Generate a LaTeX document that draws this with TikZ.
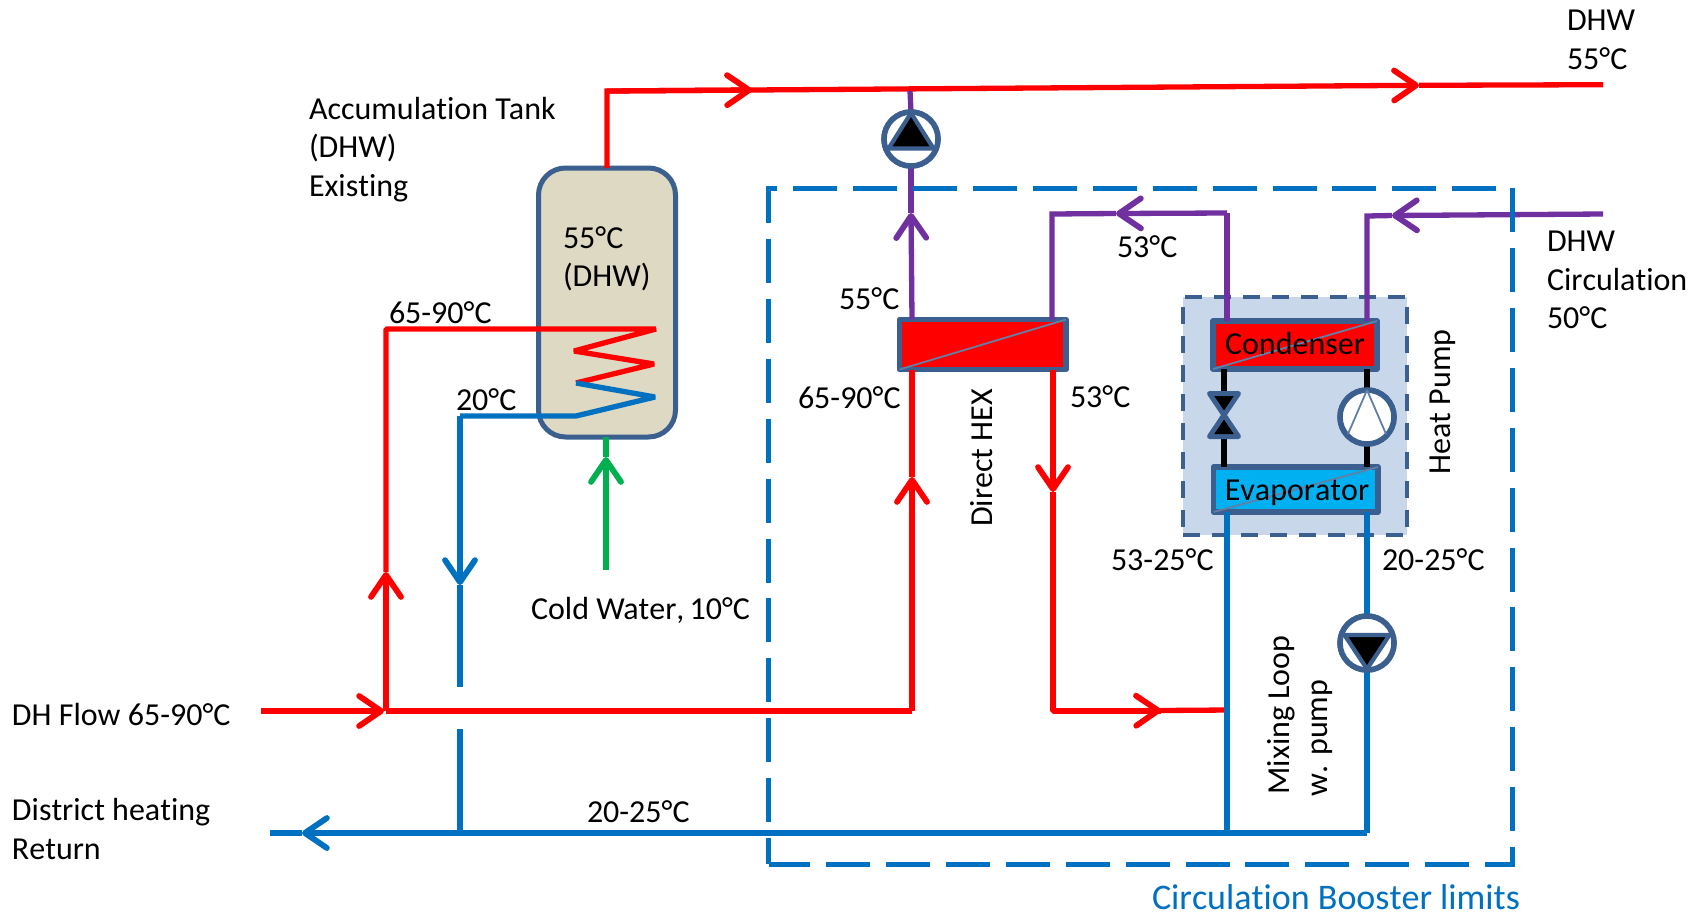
\documentclass[tikz,border=0pt]{standalone}
\usepackage{fontspec}
\setmainfont{Carlito}[Ligatures=NoCommon,Kerning=Off]
\usetikzlibrary{arrows.meta,shapes.geometric}
\definecolor{cRed}{HTML}{FF0000}
\definecolor{cBlue}{HTML}{0070C0}
\definecolor{cPurple}{HTML}{7030A0}
\definecolor{cGreen}{HTML}{00B050}
\definecolor{cEdge}{HTML}{3B5F8E}
\definecolor{cTank}{HTML}{DDD9C3}
\definecolor{cHP}{HTML}{C9D7EA}
\definecolor{cEvap}{HTML}{00B0F0}
\tikzset{
  pipe/.style={line width=5.3pt,line join=bevel},
  redp/.style={pipe,draw=cRed},
  bluep/.style={pipe,draw=cBlue},
  purp/.style={pipe,draw=cPurple},
  grnp/.style={pipe,draw=cGreen},
  blkp/.style={line width=5.5pt,draw=black},
  vtip/.style={-{Straight Barb[length=22pt,width=30pt,line width=5.8pt,round]}},
  hexbox/.style={rectangle,draw=cEdge,line width=5.5pt,inner sep=0pt,outer sep=0pt,line join=round},
  hexdiag/.style={draw=cEdge!80!white,line width=1.8pt},
  circ/.style={circle,draw=cEdge,line width=5.5pt,fill=white,minimum size=54pt,inner sep=0pt,outer sep=0pt},
  tri/.style={draw=cEdge,line width=4.2pt,fill=black,line join=round},
  lbl/.style={font=\fontsize{32}{38.5}\selectfont,inner sep=0pt,outer sep=0pt,align=left,anchor=west},
  rot/.style={font=\fontsize{32}{38.5}\selectfont,inner sep=0pt,outer sep=0pt,align=center,rotate=90},
}
\begin{document}
\begin{tikzpicture}[x=1pt,y=-1pt]
\useasboundingbox (0,0) rectangle (1702,914);
% heat pump frame
\node[rectangle,fill=cHP,draw=cEdge,line width=4.5pt,dash pattern=on 17pt off 12pt,minimum width=224pt,minimum height=238pt,inner sep=0pt,outer sep=0pt] (hpbox) at (1295,416) {};
% components
\node[rectangle,rounded corners=27pt,fill=cTank,draw=cEdge,line width=5pt,minimum width=137pt,minimum height=269pt,inner sep=0pt,outer sep=0pt] (tank) at (607,302.5) {};
\node[hexbox,fill=cRed,minimum width=166.5pt,minimum height=50pt] (hex) at (982.75,344.5) {};
\draw[hexdiag] (hex.south west) -- (hex.north east);
\node[hexbox,fill=cRed,minimum width=164pt,minimum height=48pt] (cond) at (1295,345) {};
\draw[hexdiag] (cond.south west) -- (cond.north east);
\node[hexbox,fill=cEvap,minimum width=164.5pt,minimum height=45pt] (evap) at (1295.75,489.5) {};
\draw[hexdiag] (evap.south west) -- (evap.north east);
% named points
\coordinate (xP1) at (911,0);
\coordinate (xH1) at (912,0);
\coordinate (xH2) at (1052,0);
\coordinate (xC1) at (1227,0);
\coordinate (xC2) at (1367,0);
\coordinate (xTank) at (607,0);
\coordinate (dhwOut) at (1603,84.7);
\coordinate (tankUp) at (607,91);
\coordinate (t1) at (752,90);
\coordinate (t2) at (1419,85.3);
\coordinate (dhFlow) at (261,711);
\coordinate (dhJ) at (386,711);
\coordinate (dhT) at (384,711);
\coordinate (hexIn) at (912,711);
\coordinate (coilIn) at (386,329);
\coordinate (coil1) at (656,329);
\coordinate (coil2) at (574,351);
\coordinate (coil3) at (654,364);
\coordinate (coil4) at (576,383);
\coordinate (coil5) at (655,397);
\coordinate (coil6) at (576,416);
\coordinate (coil7) at (460,416);
\coordinate (gapA) at (460,687);
\coordinate (gapB) at (460,729);
\coordinate (retJ) at (460,833);
\coordinate (retEnd) at (270,833);
\coordinate (retTip) at (302,833);
\coordinate (retC2) at (1367,833);
\coordinate (retC1) at (1227,833);
\coordinate (mixR) at (1227,710);
\coordinate (h53) at (1053,711);
\coordinate (coldS) at (606,570);
\coordinate (coldT) at (606,457);
\coordinate (p2j) at (1052,214);
\coordinate (c1j) at (1227,213);
\coordinate (c2j) at (1367,216);
\coordinate (dhwC) at (1603,214);
% pumps
\node[circ] (pump1) at (911,139) {};
\node[circ] (pump2) at (1367,643) {};
\node[circ] (comp) at (1367,417) {};
% pipes: red
\draw[redp,line join=miter] (tank.north -| xTank) -- (tankUp) -- (t1);
\draw[redp,vtip] (tankUp) -- (t1);
\draw[redp,vtip] (t1) -- (t2);
\draw[redp] (t2) -- (dhwOut);
\draw[redp,vtip] (dhFlow) -- (dhT);
\draw[redp] (dhJ) -- (hexIn);
\draw[redp,vtip] (dhJ) -- (386,572);
\draw[redp] (386,572) -- (coilIn) -- (coil1) -- (coil2) -- (coil3) -- (coil4);
\draw[redp,vtip] (hexIn) -- (912,477);
\draw[redp] (912,477) -- (hex.south -| xH1);
\draw[redp,vtip] (hex.south -| h53) -- (1053,492);
\draw[redp] (1053,492) -- (h53) -- (1161,711);
\draw[redp,vtip] (1100,711) -- (1161,710.5);
\draw[redp] (1161,710.5) -- (mixR);
% blue
\draw[bluep] (coil4) -- (coil5) -- (coil6) -- (coil7);
\draw[bluep,vtip] (coil7) -- (460,585);
\draw[bluep] (460,585) -- (gapA);
\draw[bluep] (gapB) -- (retJ);
\draw[bluep,vtip] (retC2) -- (retTip);
\draw[bluep] (retTip) -- (retEnd);
\draw[bluep] (evap.south -| xC1) -- (retC1);
\draw[bluep] (evap.south -| xC2) -- (pump2.north);
\draw[bluep] (pump2.south) -- (retC2);
% purple
\draw[purp] (tankUp -| pump1) ++(-1,0) -- (pump1.north);
\draw[purp,vtip] (hex.north -| xP1) ++(1,0) -- (911,213);
\draw[purp] (911,213) -- (pump1.south);
\draw[purp,line join=miter] (hex.north -| xH2) -- (p2j) -- (1116,213.5);
\draw[purp,vtip] (c1j) -- (1116,213.5);
\draw[purp] (c1j) -- (cond.north -| c1j);
\draw[purp,line join=miter] (cond.north -| c2j) -- (c2j) -- (1392,215.5);
\draw[purp,vtip] (dhwC) -- (1392,215.5);
% green
\draw[grnp,vtip] (coldS) -- (coldT);
\draw[grnp] (coldT) -- (tank.south -| coldT);
% limits frame
\draw[cBlue,line width=5pt,dash pattern=on 44pt off 15.9pt,dash phase=18pt] (768.5,864) -- (768.5,188) -- (1512,188) -- (1512,864) -- cycle;
% refrigerant
\draw[blkp] (cond.south -| 1224,0) -- (evap.north -| 1224,0);
\draw[blkp] (cond.south -| xC2) -- (comp.north);
\draw[blkp] (comp.south) -- (evap.north -| xC2);
% re-draw heads on top
\node[circ] (comp2) at (comp) {};
\draw[hexdiag] (comp2.north) -- (1348,434);
\draw[hexdiag] (comp2.north) -- (1386,434);
\node[circ] at (pump1) (pump1b) {};
\draw[tri] (911,113) -- (933.5,148.5) -- (888.5,148.5) -- cycle;
\node[circ] at (pump2) (pump2b) {};
\draw[tri] (1367,669) -- (1344.5,635) -- (1389.5,635) -- cycle;
\draw[tri,line width=5pt] (1209.5,393.5) -- (1238.5,393.5) -- (1209.5,436.5) -- (1238.5,436.5) -- cycle;
\fill[black] (1214.5,396) -- (1233.5,396) -- (1224,410) -- cycle;
\fill[black] (1214.5,434) -- (1233.5,434) -- (1224,420) -- cycle;
% labels
\node[lbl] (lDHW) at (1567,40) {DHW\\55°C};
\node[lbl] (lAcc) at (309,149.5) {Accumulation T\kern-2pt ank\\(DHW)\\Existing};
\node[lbl] (lTank) at (563,259) {55°C\\(DHW)};
\node[lbl] (l6590a) at (389,313) {65-90°C};
\node[lbl] (l20) at (456,400) {20°C};
\node[lbl] (lCold) at (531,610) {Cold W\kern-1.5pt ater,\kern-2pt{} 10°C};
\node[lbl] (lDH) at (12,714) {DH Flow 65-90°C};
\node[lbl] (lRet) at (12,829) {District heating\\Return};
\node[lbl] (l2025) at (587,812) {20-25°C};
\node[lbl] (l55) at (839,299) {55°C};
\node[lbl] (l6590b) at (798,398) {65-90°C};
\node[lbl] (l53a) at (1070,397) {53°C};
\node[lbl] (l53b) at (1117,247) {53°C};
\node[rot] (lHEX) at (982,458) {Direct HEX};
\node[rot] (lHP) at (1443,402) {Heat Pump};
\node[lbl] (lCirc) at (1547,280) {DHW\\Circulation\\50°C};
\node[lbl] (l5325) at (1111,560) {53-25°C};
\node[lbl] (l2025b) at (1382,560) {20-25°C};
\node[rot] (lMix) at (1281,715) {Mixing Loop};
\node[rot] (lPump) at (1322,738) {w. pump};
\node[inner sep=0pt,outer sep=0pt,anchor=base west,text=cBlue,font=\fontsize{36}{38.5}\selectfont] (lLim) at (1152,909.5) {Circulation Booster limits};
\node[inner sep=0pt,font=\fontsize{32}{38.5}\selectfont] (lCond) at (1295,343.5) {Condenser};
\node[inner sep=0pt,font=\fontsize{32}{38.5}\selectfont] (lEvap) at (1297,492.5) {Evaporator};
\end{tikzpicture}
\end{document}
